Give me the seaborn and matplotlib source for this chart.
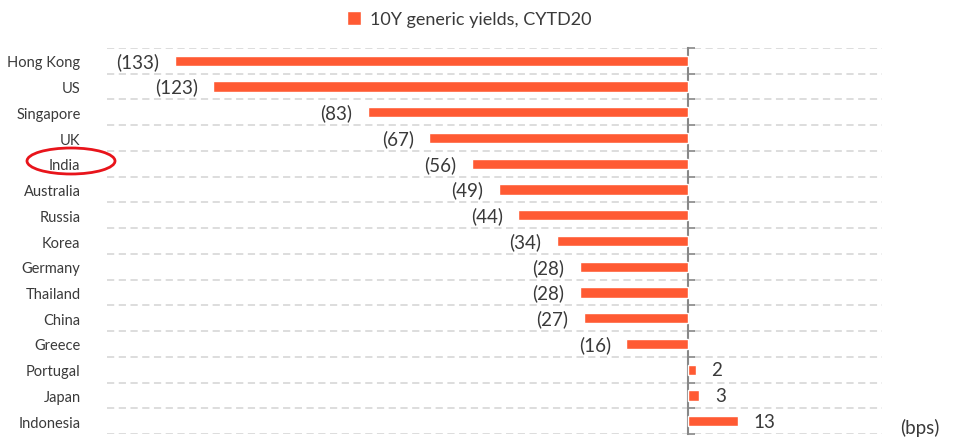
import numpy as np
import pandas as pd
import matplotlib.pyplot as plt
import seaborn as sns
from matplotlib.patches import Ellipse

countries = ['Hong Kong', 'US', 'Singapore', 'UK', 'India', 'Australia', 'Russia',
             'Korea', 'Germany', 'Thailand', 'China', 'Greece', 'Portugal', 'Japan', 'Indonesia']
yields_bps = [-133, -123, -83, -67, -56, -49, -44, -34, -28, -28, -27, -16, 2, 3, 13]
legend_label = '10Y generic yields, CYTD20'

df = pd.DataFrame({'country': countries, 'bps': yields_bps})

sns.set_style('white')
plt.rcParams['font.family'] = ['Lato', 'DejaVu Sans']
plt.rcParams['font.weight'] = 'normal'
txt = '#3a3a3a'
bar_col = '#FF5A33'

fig = plt.figure(figsize=(9.58, 4.39), dpi=100)
ax = fig.add_axes([107 / 958, 1 - 435 / 439, (882 - 107) / 958, (435 - 49) / 439])

sns.barplot(data=df, x='bps', y='country', orient='h', color=bar_col,
            width=0.4, ax=ax, label=legend_label, saturation=1)

ax.set_xlim(-150.5, 50.3)
ax.set_ylim(len(countries) - 0.5, -0.5)
ax.set_xlabel('')
ax.set_ylabel('')
ax.set_xticks([])
for s in ax.spines.values():
    s.set_visible(False)

# dashed gridlines between categories
bounds = np.arange(len(countries) + 1) - 0.5
for b in bounds:
    ax.axhline(b, color='#dadada', lw=1.3, ls=(0, (4, 2.5)), zorder=0)

ax.tick_params(axis='y', length=0, pad=19, labelsize=10.5, labelcolor=txt)

# axis line at zero with small ticks
sec = ax.secondary_yaxis(0.75)
sec.set_yticks(bounds)
sec.set_yticklabels([])
sec.tick_params(axis='y', length=5, width=1.2, color='#888888', direction='out')
for s in sec.spines.values():
    s.set_color('#888888')
    s.set_linewidth(1.5)

for i, v in enumerate(yields_bps):
    if v < 0:
        ax.annotate(f'({abs(v)})', (v, i), xytext=(-11, 0), textcoords='offset points',
                    ha='right', va='center', fontsize=13.5, color=txt)
    else:
        ax.annotate(f'{v}', (v, i), xytext=(11, 0), textcoords='offset points',
                    ha='left', va='center', fontsize=13.5, color=txt)

leg = ax.legend(loc='center', bbox_to_anchor=(0.49, 1 - 20 / 439),
                bbox_transform=fig.transFigure, frameon=False, fontsize=13,
                handlelength=0.8, handleheight=0.8, handletextpad=0.5)
for t in leg.get_texts():
    t.set_color(txt)

fig.text(920 / 958, 1 - 428 / 439, '(bps)', ha='center', va='center', fontsize=13.5, color=txt)

fig.patches.append(Ellipse((71 / 958, 1 - 162 / 439), 88 / 958, 26 / 439,
                           transform=fig.transFigure, fill=False, ec='#e8141b', lw=2))

fig.savefig('out.png', dpi=100)
